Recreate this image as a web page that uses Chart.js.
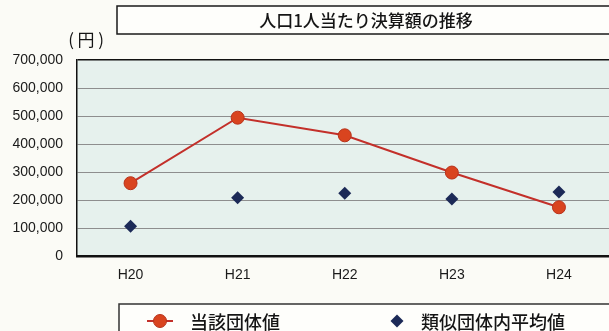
<!DOCTYPE html>
<html>
<head>
<meta charset="utf-8">
<script src="https://cdn.jsdelivr.net/npm/chart.js@4/dist/chart.umd.min.js"></script>
<style>
  html, body { margin: 0; padding: 0; background: #fbfbf6; overflow: hidden; width: 609px; height: 331px; }
  #wrap { position: relative; width: 620px; height: 331px; }
  canvas { display: block; }
</style>
</head>
<body>
<div id="wrap"><canvas id="chart" width="620" height="331"></canvas></div>
<script>
// Fiscal years (Heisei era)
const categories = ['H20', 'H21', 'H22', 'H23', 'H24'];
// Per-capita settlement amount of this municipality (yen)
const ownValues = [260000, 494000, 431000, 298000, 174000];
// Average of similar municipalities (yen)
const peerAverage = [106000, 208000, 224000, 204000, 229000];
// Y axis ticks
const yTicks = [0, 100000, 200000, 300000, 400000, 500000, 600000, 700000];

const titleText = '人口1人当たり決算額の推移';
const unitText = ['(', '円', ')'];
const seriesNames = ['当該団体値', '類似団体内平均値'];

const LATIN = '"Liberation Sans", Arial, sans-serif';
const CJK = '"Noto Sans CJK JP", "Noto Sans", sans-serif';

const decorations = {
  id: 'decorations',
  beforeDraw(chart) {
    const { ctx, chartArea: a } = chart;
    ctx.save();
    ctx.fillStyle = '#fbfbf6';
    ctx.fillRect(0, 0, chart.width, chart.height);
    ctx.fillStyle = '#e6f1ed';
    ctx.fillRect(a.left, a.top, a.right - a.left, a.bottom - a.top);
    ctx.restore();
  },
  afterDraw(chart) {
    const { ctx } = chart;
    ctx.save();
    // title box
    ctx.fillStyle = '#fefefb';
    ctx.fillRect(117, 6, 520, 28);
    ctx.strokeStyle = '#1a1a1a';
    ctx.lineWidth = 1.5;
    ctx.strokeRect(117, 6, 520, 28);
    ctx.fillStyle = '#151515';
    ctx.font = '500 17px ' + CJK;
    ctx.textAlign = 'center';
    ctx.textBaseline = 'middle';
    ctx.fillText(titleText, 366, 21);
    // unit label, spaced out
    ctx.font = '17px ' + CJK;
    ctx.fillText(unitText[0], 71, 40);
    ctx.fillText(unitText[1], 86, 40);
    ctx.fillText(unitText[2], 101, 40);

    // legend box
    ctx.fillStyle = '#fefefb';
    ctx.fillRect(119, 304, 520, 40);
    ctx.strokeStyle = '#333333';
    ctx.lineWidth = 1.5;
    ctx.strokeRect(119, 304, 520, 40);

    const ds = chart.data.datasets;
    const ly = 321;
    // series 1: line + circle
    ctx.strokeStyle = ds[0].borderColor;
    ctx.lineWidth = ds[0].borderWidth;
    ctx.beginPath();
    ctx.moveTo(147, ly);
    ctx.lineTo(173, ly);
    ctx.stroke();
    ctx.fillStyle = ds[0].pointBackgroundColor;
    ctx.strokeStyle = ds[0].pointBorderColor;
    ctx.beginPath();
    ctx.arc(160, ly, ds[0].pointRadius, 0, Math.PI * 2);
    ctx.fill();
    ctx.lineWidth = ds[0].pointBorderWidth;
    ctx.stroke();
    // series 2: diamond
    ctx.fillStyle = ds[1].pointBackgroundColor;
    ctx.beginPath();
    const r = ds[1].pointRadius;
    ctx.moveTo(397, ly - r);
    ctx.lineTo(397 + r, ly);
    ctx.lineTo(397, ly + r);
    ctx.lineTo(397 - r, ly);
    ctx.closePath();
    ctx.fill();

    ctx.fillStyle = '#151515';
    ctx.font = '500 18px ' + CJK;
    ctx.textAlign = 'left';
    ctx.fillText(ds[0].label, 190, ly + 1);
    ctx.fillText(ds[1].label, 421, ly + 1);
    ctx.restore();
  }
};

new Chart(document.getElementById('chart'), {
  type: 'line',
  data: {
    labels: categories,
    datasets: [
      {
        label: seriesNames[0],
        data: ownValues,
        borderColor: '#c3302a',
        borderWidth: 2,
        pointStyle: 'circle',
        pointRadius: 6.5,
        pointBackgroundColor: '#d9441f',
        pointBorderColor: '#b8331c',
        pointBorderWidth: 1,
        tension: 0
      },
      {
        label: seriesNames[1],
        data: peerAverage,
        showLine: false,
        pointStyle: 'rectRot',
        pointRadius: 6.5,
        pointBackgroundColor: '#1c2a57',
        pointBorderColor: '#1c2a57',
        pointBorderWidth: 0
      }
    ]
  },
  options: {
    responsive: false,
    animation: false,
    devicePixelRatio: 1,
    layout: { padding: { left: 0, top: 60, right: 3, bottom: 0 } },
    plugins: { legend: { display: false }, tooltip: { enabled: false } },
    scales: {
      x: {
        offset: true,
        grid: { display: false, drawTicks: false },
        border: { display: true, color: '#111111', width: 2.5 },
        ticks: { color: '#1a1a1a', font: { family: LATIN, size: 14 }, padding: 11, maxRotation: 0 },
        afterFit(scale) { scale.height = 75; }
      },
      y: {
        min: 0,
        max: 700000,
        afterBuildTicks(scale) { scale.ticks = yTicks.map(v => ({ value: v })); },
        grid: {
          drawTicks: false,
          color: ctx => (ctx.tick && ctx.tick.value === 700000) ? '#111111' : (ctx.tick && ctx.tick.value === 0 ? 'rgba(0,0,0,0)' : '#8e8e8e'),
          lineWidth: ctx => (ctx.tick && ctx.tick.value === 700000) ? 1.5 : 1
        },
        border: { display: true, color: '#111111', width: 1.5 },
        ticks: {
          color: '#1a1a1a',
          font: { family: LATIN, size: 14 },
          padding: 14,
          callback: v => v.toLocaleString('en-US')
        },
        afterFit(scale) { scale.width = 77; }
      }
    }
  },
  plugins: [decorations]
});
</script>
</body>
</html>
